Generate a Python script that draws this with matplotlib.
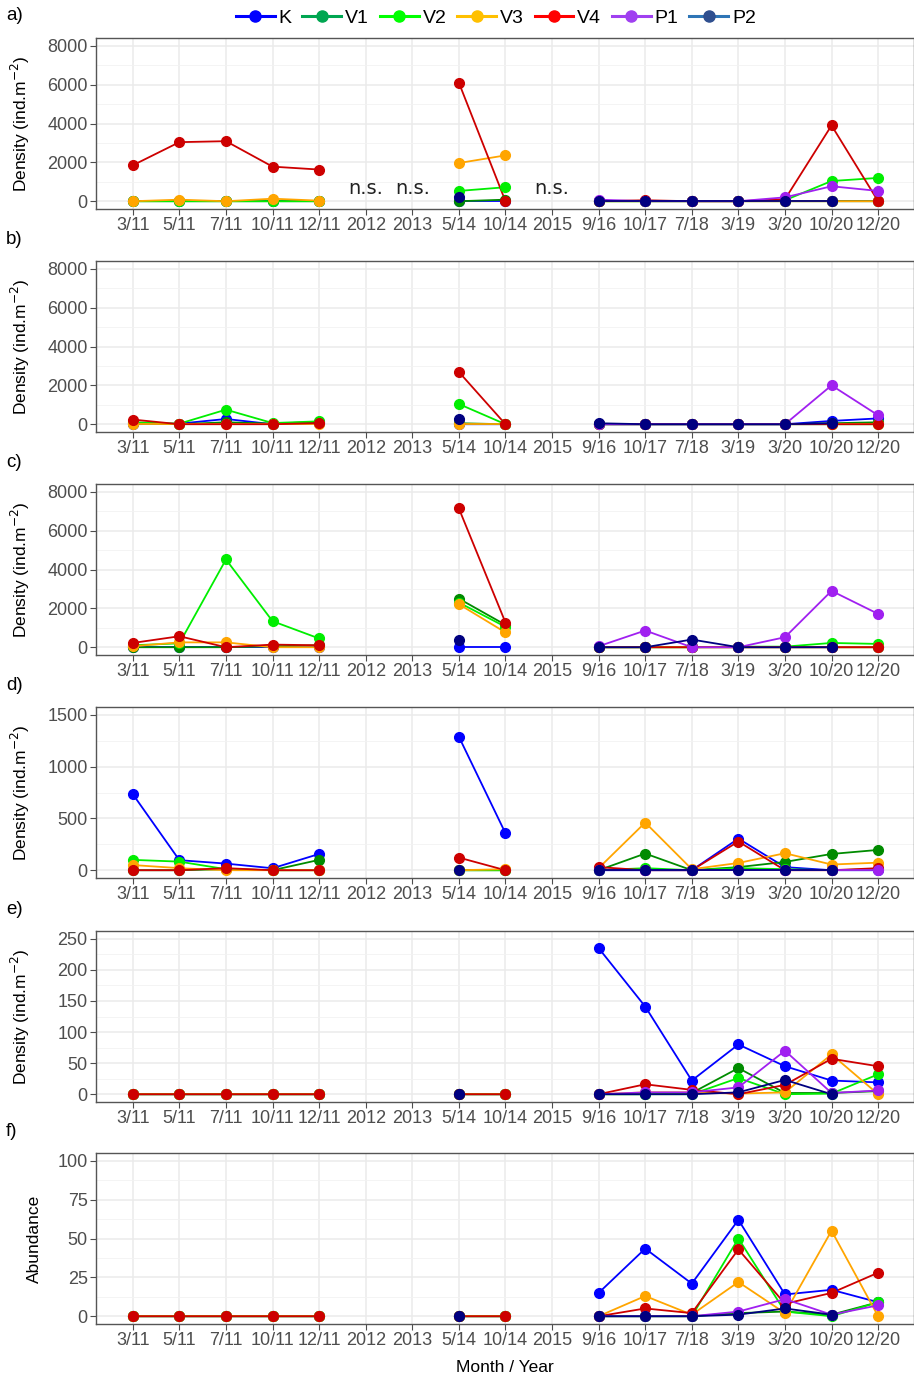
import numpy as np
import matplotlib
matplotlib.use("Agg")
import matplotlib.pyplot as plt
from matplotlib.lines import Line2D
from matplotlib.ticker import MultipleLocator

plt.rcParams['font.family'] = ['Liberation Sans', 'DejaVu Sans']

n = np.nan

# categorias do eixo x
dates = ['3/11', '5/11', '7/11', '10/11', '12/11', '2012', '2013', '5/14', '10/14',
         '2015', '9/16', '10/17', '7/18', '3/19', '3/20', '10/20', '12/20']
series = ['K', 'V1', 'V2', 'V3', 'V4', 'P1', 'P2']
colors = {'K': '#0000FF', 'V1': '#008B00', 'V2': '#00EE00', 'V3': '#FFA500',
          'V4': '#CD0000', 'P1': '#A020F0', 'P2': '#000080'}
# cores da legenda (a legenda original usa tons ligeiramente diferentes)
leg_line = {'K': '#0000FF', 'V1': '#00A651', 'V2': '#00FF00', 'V3': '#FFC000',
            'V4': '#FF0000', 'P1': '#A040F0', 'P2': '#2E75B6'}
leg_mark = {'K': '#0000FF', 'V1': '#00A651', 'V2': '#00FF00', 'V3': '#FFC000',
            'V4': '#FF0000', 'P1': '#A040F0', 'P2': '#2F4F8F'}

# a) densidade
panel_a = {
    'K':  [0, 0, 0, 0, 0, n, n, 0, 0, n, 0, 0, 0, 0, 0, 0, 0],
    'V1': [0, 0, 0, 0, 0, n, n, 0, 80, n, 0, 0, 0, 0, 0, 0, 0],
    'V2': [0, 0, 0, 0, 0, n, n, 530, 720, n, 0, 0, 0, 0, 50, 1040, 1200],
    'V3': [0, 80, 0, 130, 30, n, n, 1965, 2360, n, 0, 0, 0, 0, 0, 0, 0],
    'V4': [1850, 3040, 3090, 1780, 1630, n, n, 6100, 0, n, 0, 50, 0, 0, 100, 3900, 0],
    'P1': [n, n, n, n, n, n, n, n, n, n, 80, 0, 0, 0, 200, 770, 530],
    'P2': [n, n, n, n, n, n, n, 220, n, n, 0, 0, 0, 0, 0, 0, n],
}
# b)
panel_b = {
    'K':  [0, 30, 270, 0, 50, n, n, 0, 0, n, 0, 0, 0, 0, 0, 170, 300],
    'V1': [50, 0, 100, 30, 120, n, n, 50, 0, n, 0, 0, 0, 0, 0, 50, 100],
    'V2': [100, 30, 750, 60, 150, n, n, 1040, 0, n, 0, 0, 0, 0, 0, 0, 0],
    'V3': [0, 0, 0, 0, 0, n, n, 0, 0, n, 0, 0, 0, 0, 0, 0, 0],
    'V4': [240, 0, 0, 0, 60, n, n, 2690, 0, n, 0, 0, 0, 0, 0, 0, 0],
    'P1': [n, n, n, n, n, n, n, n, n, n, 0, 0, 0, 0, 0, 2000, 460],
    'P2': [n, n, n, n, n, n, n, 250, n, n, 50, 0, 0, 0, 0, 50, n],
}
# c)
panel_c = {
    'K':  [0, 0, 0, 0, 0, n, n, 0, 0, n, 0, 0, 0, 0, 0, 0, 0],
    'V1': [0, 0, 0, 50, 100, n, n, 2500, 1150, n, 0, 0, 0, 0, 0, 0, 0],
    'V2': [100, 200, 4515, 1340, 450, n, n, 2300, 1050, n, 0, 0, 0, 30, 30, 220, 170],
    'V3': [50, 250, 250, 0, 0, n, n, 2215, 760, n, 0, 0, 0, 0, 0, 0, 0],
    'V4': [220, 565, 0, 135, 100, n, n, 7140, 1270, n, 0, 0, 0, 0, 0, 0, 0],
    'P1': [n, n, n, n, n, n, n, n, n, n, 50, 860, 0, 0, 515, 2900, 1715],
    'P2': [n, n, n, n, n, n, n, 360, n, n, 0, 0, 395, 0, 0, 0, n],
}
# d)
panel_d = {
    'K':  [734, 97, 64, 19, 157, n, n, 1288, 357, n, 0, 0, 0, 305, 30, 0, 0],
    'V1': [0, 0, 10, 0, 100, n, n, 0, 0, n, 0, 161, 0, 30, 80, 157, 196],
    'V2': [100, 83, 10, 0, 0, n, n, 0, 0, n, 0, 20, 0, 20, 10, 0, 10],
    'V3': [50, 20, 0, 0, 0, n, n, 0, 10, n, 20, 460, 10, 70, 164, 55, 73],
    'V4': [0, 0, 20, 0, 0, n, n, 122, 0, n, 30, 0, 0, 277, 0, 0, 20],
    'P1': [n, n, n, n, n, n, n, n, n, n, 0, 0, 0, 0, 0, 0, 0],
    'P2': [n, n, n, n, n, n, n, 0, n, n, 0, 0, 0, 0, 0, 0, n],
}
# e)
panel_e = {
    'K':  [0, 0, 0, 0, 0, n, n, 0, 0, n, 235, 141, 22, 80, 45, 22, 19],
    'V1': [0, 0, 0, 0, 0, n, n, 0, 0, n, 0, 0, 2, 42, 2, 2, 5],
    'V2': [0, 0, 0, 0, 0, n, n, 0, 0, n, 0, 0, 0, 26, 0, 1, 32],
    'V3': [0, 0, 0, 0, 0, n, n, 0, 0, n, 0, 3, 3, 1, 3, 64, 0],
    'V4': [0, 0, 0, 0, 0, n, n, 0, 0, n, 0, 16, 7, 0, 15, 57, 45],
    'P1': [n, n, n, n, n, n, n, n, n, n, 0, 3, 3, 11, 70, 2, 6],
    'P2': [n, n, n, n, n, n, n, 0, n, n, 0, 0, 0, 3, 23, 0, n],
}
# f) abundancia
panel_f = {
    'K':  [0, 0, 0, 0, 0, n, n, 0, 0, n, 15, 43.5, 21, 62, 14, 17, 9],
    'V1': [0, 0, 0, 0, 0, n, n, 0, 0, n, 0, 0, 0, 2, 3, 1, 9],
    'V2': [0, 0, 0, 0, 0, n, n, 0, 0, n, 0, 0, 0, 50, 3, 0, 9],
    'V3': [0, 0, 0, 0, 0, n, n, 0, 0, n, 0, 13, 1, 22, 2, 55, 0],
    'V4': [0, 0, 0, 0, 0, n, n, 0, 0, n, 0, 5, 2, 43, 8, 15, 28],
    'P1': [n, n, n, n, n, n, n, n, n, n, 0, 0, 0, 3, 11, 1, 7],
    'P2': [n, n, n, n, n, n, n, 0, n, n, 0, 0, 0, 1, 5, 1, n],
}

panels = [panel_a, panel_b, panel_c, panel_d, panel_e, panel_f]
letters = ['a)', 'b)', 'c)', 'd)', 'e)', 'f)']
ymax = [8000, 8000, 8000, 1500, 250, 100]
ystep = [2000, 2000, 2000, 500, 50, 25]
ylabels = ['Density (ind.m$^{-2}$)'] * 5 + ['Abundance']
ns_pos = [5, 6, 9]

W, H = 914, 1377
fig = plt.figure(figsize=(W / 100, H / 100), dpi=100)

tops = [38, 261, 484, 707, 931, 1153]
ph = 171
x = np.arange(len(dates))

for i, data in enumerate(panels):
    ax = fig.add_axes([96 / W, 1 - (tops[i] + ph) / H, 818 / W, ph / H])
    for name in series:
        ax.plot(x, data[name], color=colors[name], lw=1.3, zorder=3)
    for name in series:
        ax.plot(x, data[name], ls='none', marker='o', ms=7, color=colors[name], zorder=4)

    ax.set_xlim(-0.79, 16.77)
    ax.set_ylim(-0.05 * ymax[i], 1.05 * ymax[i])
    ax.set_xticks(x)
    ax.set_xticklabels(dates)
    ax.yaxis.set_major_locator(MultipleLocator(ystep[i]))
    ax.yaxis.set_minor_locator(MultipleLocator(ystep[i] / 2))
    ax.grid(True, which='major', color='#EBEBEB', lw=1.1, zorder=0)
    ax.grid(True, which='minor', axis='y', color='#F2F2F2', lw=0.6, zorder=0)
    ax.set_axisbelow(True)
    ax.tick_params(axis='both', which='major', labelsize=13, colors='#4D4D4D',
                   length=4, width=0.8, pad=2)
    ax.tick_params(axis='y', which='minor', length=0)
    for sp in ax.spines.values():
        sp.set_color('#555555')
        sp.set_linewidth(1.0)

    ax.set_ylabel(ylabels[i], fontsize=12.5, color='black')
    ax.yaxis.set_label_coords(-0.078 if i < 5 else -0.066, 0.5)
    fig.text(6 / W, 1 - (tops[i] - 22) / H, letters[i], fontsize=13.5, va='center', ha='left')

    if i == 0:
        for p in ns_pos:
            ax.text(p, 670, 'n.s.', fontsize=14, ha='center', va='center',
                    family=['DejaVu Sans'], color='#222222')
    if i == 5:
        ax.set_xlabel('Month / Year', fontsize=12.5, labelpad=8)

handles = [Line2D([0], [0], color=leg_line[s], lw=2.2, marker='o', ms=8,
                  markerfacecolor=leg_mark[s], markeredgecolor=leg_mark[s])
           for s in series]
fig.legend(handles, series, loc='center', bbox_to_anchor=(496 / W, 1 - 18 / H),
           ncol=7, frameon=False, fontsize=14, handlelength=2.0, handletextpad=0.2,
           columnspacing=0.55, borderpad=0)

fig.savefig('out.png', dpi=100)
